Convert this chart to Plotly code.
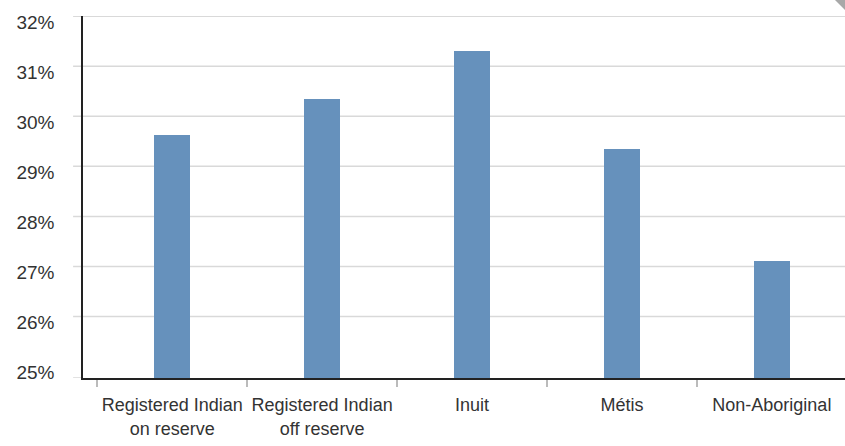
import plotly.graph_objects as go

categories = ["Registered Indian<br>on reserve", "Registered Indian<br>off reserve", "Inuit", "Métis", "Non-Aboriginal"]
values = [29.62, 30.34, 31.30, 29.34, 27.10]
y_ticks = [25, 26, 27, 28, 29, 30, 31, 32]
y_tick_text = ["25%", "26%", "27%", "28%", "29%", "30%", "31%", "32%"]
y_min, y_max = 24.77, 32.005

bar_color = "#6691BC"
grid_color = "#D9D9D9"
font_color = "#333333"

fig = go.Figure(go.Bar(x=categories, y=values, width=0.24, marker=dict(color=bar_color, line=dict(width=0))))

for v in y_ticks[1:]:
    fig.add_shape(type="line", xref="paper", yref="y", x0=-0.013, x1=1, y0=v, y1=v,
                  line=dict(color=grid_color, width=1.5), layer="below")
fig.add_shape(type="line", xref="paper", yref="y", x0=-0.013, x1=0, y0=y_min, y1=y_min,
              line=dict(color=grid_color, width=1.5), layer="below")
# page-curl decoration at the top-right corner
fig.add_shape(type="path", xref="paper", yref="paper",
              path="M 0.9869 1.0442 L 1 1.0442 L 1 1.0166 Z",
              fillcolor="#A8A8A8", line=dict(width=0))

fig.update_layout(
    width=845, height=446,
    margin=dict(l=83, r=0, t=16, b=68),
    plot_bgcolor="white", paper_bgcolor="white",
    font=dict(family="Liberation Sans, Arial, sans-serif", size=19, color=font_color),
    showlegend=False,
    bargap=0,
)
fig.update_xaxes(
    type="category", range=[-0.595, 4.488],
    showline=True, linecolor="#222222", linewidth=1.5,
    ticks="outside", tickson="boundaries", ticklen=7, tickcolor="#BBBBBB", tickwidth=1.5,
    showgrid=False, ticklabelstandoff=10, tickangle=0, automargin=False,
    tickfont=dict(size=18, color=font_color),
)
fig.update_yaxes(
    range=[y_min, y_max], tickvals=y_ticks, ticktext=y_tick_text,
    showline=True, linecolor="#222222", linewidth=1.5,
    showgrid=False, zeroline=False, ticks="", automargin=False,
    ticklabelstandoff=23, ticklabelshift=6,
    tickfont=dict(size=19, color=font_color),
)

fig.write_html("out.html")
